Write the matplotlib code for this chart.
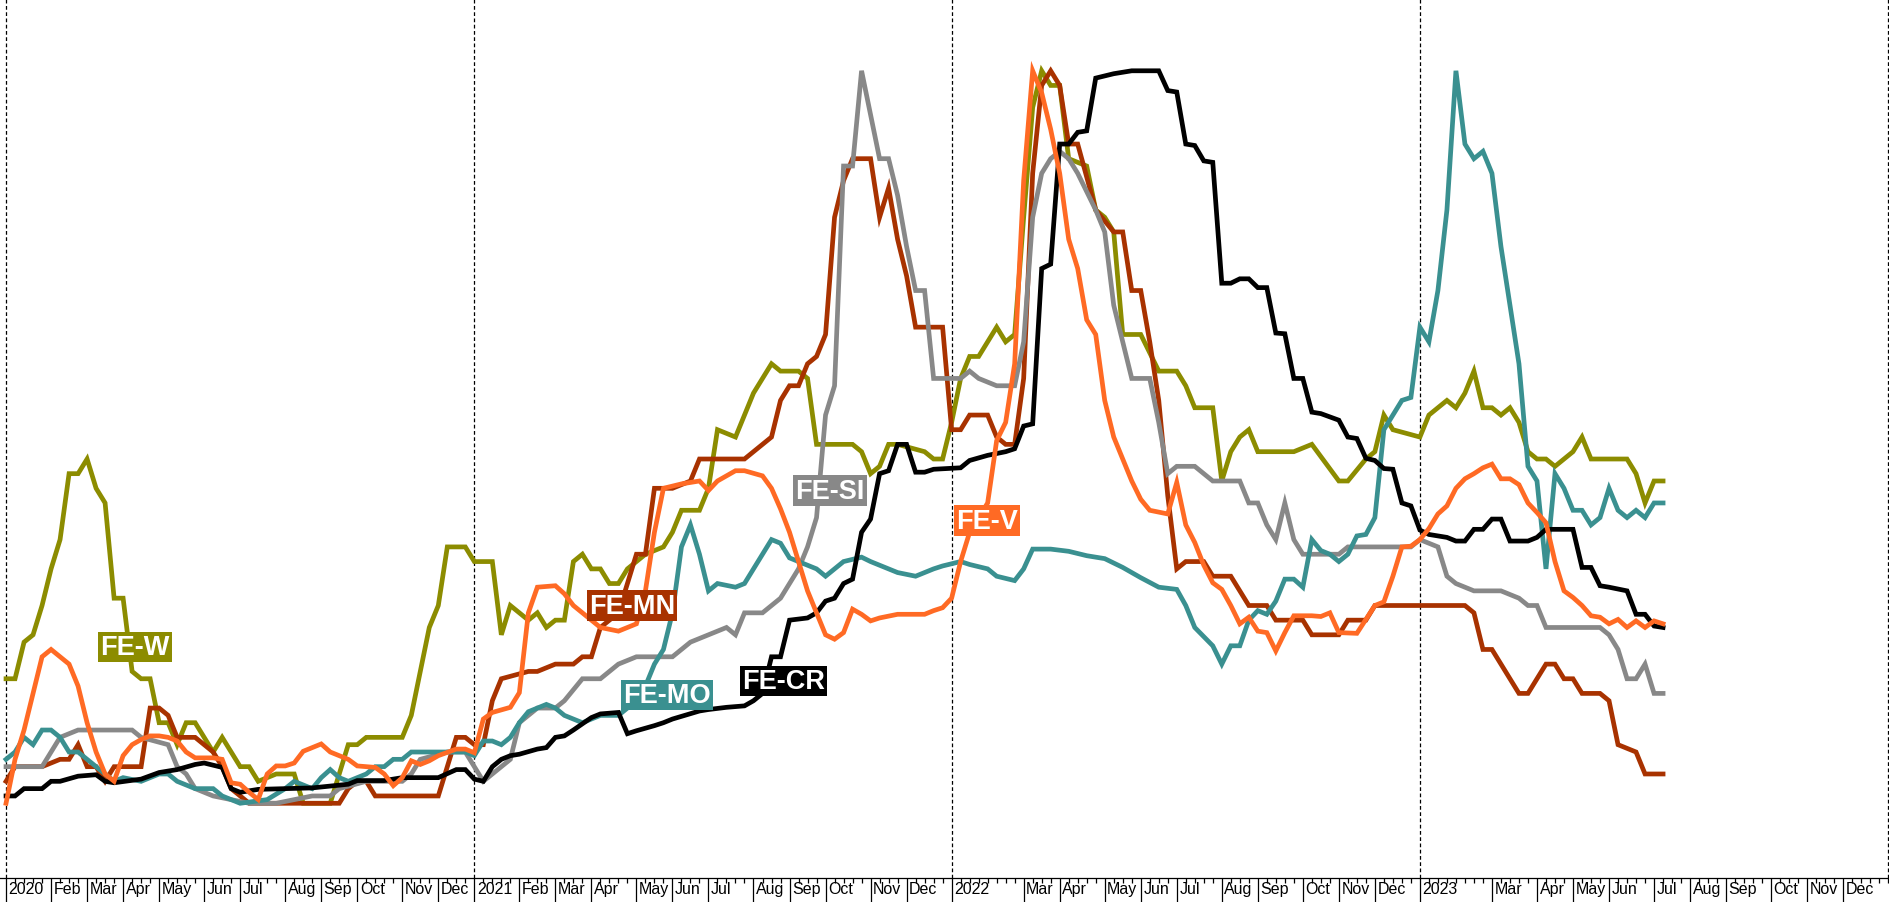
import numpy as np
import pandas as pd
import matplotlib
matplotlib.use('Agg')
import matplotlib.pyplot as plt
import matplotlib.transforms as mtransforms

# weekly index (Fridays), week 0 = 2020-01-03
weeks = pd.date_range('2020-01-03', '2024-01-05', freq='W-FRI')

# (week number, value rescaled 0..100)
fe_w = [(0,17),(1,17),(2,22),(3,23),(4,27),(5,32),(6,36),(7,45),(8,45),(9,47),(10,43),(11,41),(12,28),(13,28),(14,18),(15,17),(16,17),(17,11),(18,11),(19,8),(20,11),(21,11),(23,7),(24,9),(25,7),(26,5),(27,5),(28,3),(30,4),(32,4),(33,0),(36,0),(38,8),(39,8),(40,9),(44,9),(45,12),(46,18),(47,24),(48,27),(49,35),(51,35),(52,33),(54,33),(55,23),(56,27),(58,25),(59,26),(60,24),(61,25),(62,25),(63,33),(64,34),(65,32),(66,32),(67,30),(68,30),(69,32),(70,33),(71,34),(73,35),(74,37),(75,40),(77,40),(78,43),(79,51),(81,50),(82,53),(83,56),(85,60),(86,59),(88,59),(89,58),(90,49),(93,49),(94,49),(95,48),(96,45),(97,46),(98,49),(99,49),(102,48),(103,47),(104,47),(105,52),(106,58),(107,61),(108,61),(110,65),(111,63),(112,64),(113,80),(114,95),(115,100),(116,98),(117,98),(118,88),(120,87),(121,81),(122,80),(123,78),(124,64),(126,64),(128,59),(130,59),(131,57),(132,54),(134,54),(135,44),(136,48),(137,50),(138,51),(139,48),(141,48),(143,48),(145,49),(148,44),(149,44),(151,47),(152,48),(153,53),(154,51),(157,50),(158,53),(159,54),(160,55),(161,54),(162,56),(163,59),(164,54),(165,54),(166,53),(167,54),(168,52),(169,48),(170,47),(171,47),(172,46),(174,48),(175,50),(176,47),(178,47),(180,47),(181,45),(182,41),(183,44),(184,44)]

fe_mn = [(0,3),(1,5),(4,5),(6,6),(7,6),(8,8),(9,5),(10,5),(11,3),(12,5),(15,5),(16,13),(17,13),(18,12),(19,9),(21,9),(22,8),(23,7),(24,5),(25,2),(26,1),(27,0),(37,0),(38,2),(39,3),(40,3),(41,1),(48,1),(50,9),(51,9),(52,8),(53,8),(54,14),(55,17),(58,18),(59,18),(61,19),(63,19),(64,20),(65,20),(66,24),(67,25),(68,26),(69,30),(70,34),(71,34),(72,43),(74,43),(76,44),(77,47),(82,47),(83,48),(84,49),(85,50),(86,55),(87,57),(88,57),(89,60),(90,61),(91,64),(92,80),(93,85),(94,88),(96,88),(97,80),(98,84),(99,77),(100,72),(101,65),(104,65),(105,51),(106,51),(107,53),(109,53),(110,50),(111,49),(112,49),(113,58),(114,86),(115,98),(116,100),(117,98),(118,90),(119,90),(121,81),(123,78),(124,78),(125,70),(126,70),(127,63),(128,55),(129,42),(130,32),(131,33),(133,33),(134,31),(136,31),(138,27),(140,27),(141,25),(144,25),(145,23),(148,23),(149,25),(151,25),(152,27),(162,27),(163,26),(164,21),(165,21),(166,19),(168,15),(169,15),(171,19),(172,19),(173,17),(174,17),(175,15),(177,15),(178,14),(179,8),(181,7),(182,4),(184,4)]

fe_si = [(0,5),(4,5),(5,7),(6,9),(8,10),(14,10),(15,9),(18,8),(19,5),(20,4),(21,2),(23,1),(25,0.5),(27,0),(30,0),(34,1),(36,1),(37,2),(40,3),(44,3),(45,4),(46,6),(49,7),(51,7),(52,5),(53,3),(54,4),(55,5),(56,6),(57,11),(58,12),(59,13),(61,13),(62,14),(64,17),(66,17),(67,18),(68,19),(70,20),(74,20),(76,22),(78,23),(80,24),(81,23),(82,26),(84,26),(86,28),(87,30),(88,32),(89,35),(90,39),(91,53),(92,57),(93,87),(94,87),(95,100),(96,94),(97,88),(98,88),(99,83),(100,76),(101,70),(102,70),(103,58),(106,58),(107,59),(108,58),(110,57),(112,57),(113,63),(114,80),(115,86),(116,88),(117,89),(118,88),(119,86),(121,81),(122,78),(123,68),(125,58),(127,58),(128,52),(129,45),(130,46),(132,46),(134,44),(137,44),(138,41),(139,41),(140,38),(141,36),(142,41),(143,36),(144,34),(148,34),(149,35),(151,35),(153,35),(156,35),(157,36),(159,35),(160,31),(161,30),(163,29),(166,29),(168,28),(169,27),(170,27),(171,24),(175,24),(177,24),(178,23),(179,21),(180,17),(181,17),(182,19),(183,15),(184,15)]

fe_mo = [(0,6),(1,7),(2,9),(3,8),(4,10),(5,10),(6,9),(7,7),(8,7),(9,6),(11,4),(12,3),(13,3.5),(15,3),(17,4),(18,4),(19,3),(21,2),(23,2),(24,1),(26,0),(29,0.5),(31,2),(32,3),(34,2),(35,3.5),(36,4.6),(37,3.5),(38,3),(40,4),(41,5),(42,5),(43,6),(44,6),(45,7),(48,7),(51,7),(52,6.5),(53,8.5),(54,8.5),(55,8),(56,9),(57,11),(58,12.5),(59,13),(60,13.5),(61,13),(62,12),(64,11),(65,11.5),(66,12),(68,12),(69,13),(70,13.5),(71,16),(72,19),(73,21),(74,26),(75,35),(76,38),(77,34),(78,29),(79,30),(81,29.5),(82,30),(83,32),(84,34),(85,36),(86,35.5),(87,33.5),(88,33),(90,32),(91,31),(92,32),(93,33),(95,33.6),(96,33),(98,32),(99,31.5),(101,31),(103,32),(104,32.4),(106,33),(107,32.6),(109,32),(110,31),(112,30.4),(113,32),(114,34.7),(116,34.7),(118,34.4),(120,33.8),(122,33.4),(124,32.2),(126,30.8),(128,29.5),(130,29.2),(131,27),(132,24),(134,21.5),(135,19),(136,21.5),(137,21.5),(138,25),(139,26.3),(140,25.8),(141,27.6),(142,30.6),(143,30.6),(144,29.5),(145,36),(146,34.5),(147,34),(148,33),(149,34),(150,36.5),(151,36.7),(152,39),(153,51),(154,53),(155,55),(156,55.4),(157,65),(158,63),(159,70),(160,81),(161,100),(162,90),(163,88),(164,89),(165,86),(166,76),(167,68),(168,60),(169,46),(170,44),(171,32),(172,45),(173,43),(174,40),(175,40),(176,38),(177,39),(178,43),(179,40),(180,39),(181,40),(182,39),(183,41),(184,41)]

fe_cr = [(0,1),(1,1),(2,2),(4,2),(5,3),(6,3),(8,3.7),(10,3.9),(11,3),(12,2.8),(15,3.3),(17,4.2),(19,4.6),(21,5.3),(22,5.5),(24,4.9),(25,2),(26,1.5),(28,1.9),(34,2.1),(38,2.6),(39,3.1),(42,3.1),(44,3.5),(48,3.5),(50,4.6),(51,4.6),(52,3.3),(53,3),(54,5),(55,6),(56,6.5),(57,6.7),(59,7.4),(60,7.6),(61,9),(62,9.2),(63,10),(65,11.7),(66,12.2),(68,12.4),(69,9.5),(70,9.9),(72,10.6),(73,11),(74,11.5),(77,12.6),(78,12.8),(80,13.1),(82,13.3),(83,14),(84,15),(85,20),(86,20),(87,25),(89,25.3),(90,26),(91,27.6),(92,28),(93,30),(94,30.6),(95,37),(96,38.8),(97,45),(98,45.4),(99,49),(100,49),(101,45.2),(102,45.2),(103,45.6),(106,45.8),(107,46.8),(109,47.5),(111,48),(112,48.4),(113,51.5),(114,51.8),(115,73),(116,73.6),(117,90),(118,90),(119,91.6),(120,91.8),(121,99),(123,99.6),(125,100),(128,100),(129,97.3),(130,97.1),(131,90),(132,89.8),(133,87.7),(134,87.5),(135,71),(136,71),(137,71.6),(138,71.6),(139,70.4),(140,70.4),(141,64.2),(142,64.1),(143,58),(144,58),(145,53.4),(146,53.2),(148,52.3),(149,50),(150,49.8),(151,47.1),(152,46.8),(153,45.7),(154,45.6),(155,41),(156,40.6),(157,37.3),(158,36.7),(160,36.3),(161,35.8),(162,35.8),(163,37.4),(164,37.4),(165,38.8),(166,38.8),(167,35.8),(169,35.8),(170,36.3),(171,37.4),(174,37.4),(175,32.2),(176,32.2),(177,29.7),(178,29.5),(180,29),(181,25.8),(182,25.8),(183,24.2),(184,24)]

fe_v = [(0,0),(1,6),(2,10),(3,15),(4,20),(5,21),(6,20),(7,19),(8,16),(9,11),(10,7),(11,4),(12,3),(13,6.5),(14,8),(15,8.7),(16,9.2),(17,9.2),(18,9),(19,8.5),(20,7),(21,6.2),(23,6.2),(24,6),(25,2.8),(26,2.6),(27,1.5),(28,0.5),(29,4),(30,5.1),(31,5.1),(32,5.5),(33,7.1),(35,8.1),(36,7),(38,6),(39,5.1),(41,4.9),(42,4),(43,2.4),(44,3.5),(45,5.8),(46,5.3),(47,5.8),(48,6.5),(50,7.4),(51,7.4),(52,6.9),(53,11.5),(54,12.4),(56,13.1),(57,15.1),(58,26),(59,29.5),(61,29.7),(62,28.6),(63,27),(64,26),(65,25),(66,24),(68,23.5),(70,24.5),(71,29),(72,37),(73,43),(75,43.6),(77,44),(78,42.7),(79,44),(81,45.4),(82,45.4),(84,44.7),(85,43),(86,40.2),(87,37),(88,33),(89,29),(90,26),(91,23),(92,22.4),(93,23.3),(94,26.5),(95,25.8),(96,24.9),(97,25.3),(99,25.8),(102,25.8),(103,26.3),(104,26.7),(105,28),(106,33),(107,37),(108,39),(109,41),(110,49.5),(111,52),(112,60),(113,85),(114,100),(115,97),(116,92),(117,86),(118,77),(119,73),(120,66),(121,64),(122,55),(123,50),(124,47),(125,44),(126,41.5),(127,40),(129,39.5),(130,43.8),(131,38),(132,35.6),(133,32.5),(134,30.1),(135,29.2),(136,27),(137,24.5),(138,25.4),(139,23.5),(140,23.3),(141,20.8),(142,23.3),(143,25.6),(145,25.6),(146,25.5),(147,26),(148,23.3),(150,23.2),(152,27),(153,27.5),(154,31),(155,35),(156,35.1),(157,36),(158,37.5),(159,39.5),(160,40.6),(161,43),(162,44.3),(163,45),(164,45.8),(165,46.3),(166,44.3),(167,44.3),(168,43.5),(169,41),(170,39.7),(171,38.3),(172,33),(173,29),(174,28.1),(175,27),(176,25.6),(177,25.4),(178,24.5),(179,25.1),(180,24),(181,24.9),(182,24),(183,24.9),(184,24.5)]

names = ['FE-W', 'FE-MN', 'FE-SI', 'FE-MO', 'FE-CR', 'FE-V']
data = [fe_w, fe_mn, fe_si, fe_mo, fe_cr, fe_v]
colours = ['#8c8c00', '#a83200', '#888888', '#3a9090', '#000000', '#ff6a24']
# where the name tags sit (week, value)
tag_pos = [(14.3, 21.3), (69.5, 27.0), (91.5, 42.7), (73.4, 14.8), (86.3, 16.7), (108.9, 38.6)]

fig = plt.figure(figsize=(18.9, 9.03), dpi=100)
ax = fig.add_axes([0, 24 / 903, 1, 879 / 903])

for name, pts, col in zip(names, data, colours):
    wk = [p[0] for p in pts]
    val = [p[1] for p in pts]
    ax.plot(wk, val, color=col, lw=3.4, solid_joinstyle='miter', zorder=3)

for name, (x, y), col in zip(names, tag_pos, colours):
    ax.text(x, y, name, color='white', fontsize=19.5, fontweight='bold', family='Liberation Sans',
            ha='center', va='center', zorder=5,
            bbox=dict(boxstyle='square,pad=0.08', fc=col, ec='none'))

# month ticks at the first Friday of each month (Feb 2022 / Feb 2023 not labelled in the original)
tick_pos = []
tick_lab = []
for i, d in enumerate(weeks[:-1]):
    if i == 0 or d.month != weeks[i - 1].month:
        if d.month == 2 and d.year in (2022, 2023):
            continue
        tick_pos.append(i)
        tick_lab.append(str(d.year) if d.month == 1 else d.strftime('%b'))

year_pos = [i for i, d in enumerate(weeks) if i == 0 or d.year != weeks[i - 1].year]
for x in year_pos:
    ax.axvline(x, color='black', lw=0.9, ls=(0, (3, 2)), zorder=1)

ax.set_xlim(-0.67, 209.2)
ax.set_ylim(-10.2, 109.8)
ax.set_xticks(tick_pos)
ax.set_xticklabels(tick_lab, family='Liberation Sans', fontsize=11.5)
ax.set_xticks(range(len(weeks)), minor=True)
ax.tick_params(axis='x', which='major', length=18, width=0.9, pad=-16)
ax.tick_params(axis='x', which='minor', length=3.5, width=0.9)
offset = mtransforms.ScaledTranslation(2.5 / 100, 0, fig.dpi_scale_trans)
for lab in ax.get_xticklabels():
    lab.set_horizontalalignment('left')
    lab.set_transform(lab.get_transform() + offset)
ax.set_yticks([])
for s in ['top', 'left', 'right']:
    ax.spines[s].set_visible(False)
ax.spines['bottom'].set_linewidth(0.9)

fig.savefig('out.png', dpi=100)
